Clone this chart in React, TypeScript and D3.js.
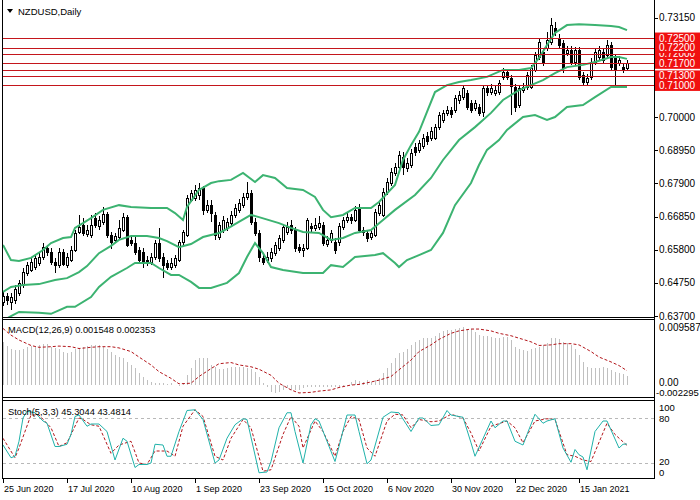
import * as d3 from "d3";

// NZDUSD daily candles, 25 Jun 2020 .. end Jan 2021
const barOpen = [
  0.6414, 0.6433, 0.6414, 0.6421, 0.6443, 0.6468, 0.6506, 0.6516, 0.6525, 0.6538,
  0.6557, 0.6585, 0.6573, 0.6541, 0.6532, 0.6573, 0.6532, 0.6547, 0.6579, 0.6636,
  0.6658, 0.6630, 0.6626, 0.6680, 0.6655, 0.6668, 0.6693, 0.6626, 0.6611, 0.6620,
  0.6642, 0.6683, 0.6611, 0.6601, 0.6579, 0.6573, 0.6547, 0.6541, 0.6557, 0.6601,
  0.6557, 0.6538, 0.6525, 0.6532, 0.6547, 0.6604, 0.6626, 0.6737, 0.6744, 0.6753,
  0.6775, 0.6706, 0.6721, 0.6690, 0.6620, 0.6642, 0.6649, 0.6664, 0.6690, 0.6706,
  0.6721, 0.6747, 0.6759, 0.6668, 0.6633, 0.6554, 0.6547, 0.6554, 0.6569, 0.6585,
  0.6611, 0.6636, 0.6658, 0.6642, 0.6588, 0.6579, 0.6585, 0.6655, 0.6649, 0.6652,
  0.6658, 0.6598, 0.6611, 0.6604, 0.6604, 0.6652, 0.6674, 0.6683, 0.6674, 0.6712,
  0.6642, 0.6633, 0.6620, 0.6626, 0.6696, 0.6690, 0.6763, 0.6791, 0.6823, 0.6842,
  0.6873, 0.6839, 0.6848, 0.6905, 0.6896, 0.6908, 0.6940, 0.6934, 0.6934, 0.6968,
  0.6991, 0.7013, 0.7022, 0.7022, 0.7054, 0.7063, 0.7076, 0.7044, 0.7028, 0.7032,
  0.7016, 0.7092, 0.7079, 0.7076, 0.7079, 0.7127, 0.7142, 0.7123, 0.7095, 0.7038,
  0.7085, 0.7095, 0.7095, 0.7149, 0.7190, 0.7206, 0.7218, 0.7237, 0.7282, 0.7250,
  0.7234, 0.7203, 0.7212, 0.7174, 0.7212, 0.7133, 0.7111, 0.7127, 0.7174, 0.7190,
  0.7206, 0.7196, 0.7228, 0.7187, 0.7171, 0.7158, 0.7155,
];
const barHigh = [
  0.6446, 0.6443, 0.6443, 0.6468, 0.6484, 0.6522, 0.6541, 0.6554, 0.6563, 0.6569,
  0.6601, 0.6595, 0.6585, 0.6554, 0.6585, 0.6582, 0.6569, 0.6592, 0.6642, 0.6690,
  0.6680, 0.6658, 0.6690, 0.6696, 0.6687, 0.6715, 0.6699, 0.6636, 0.6633, 0.6674,
  0.6696, 0.6690, 0.6620, 0.6626, 0.6588, 0.6585, 0.6560, 0.6569, 0.6611, 0.6649,
  0.6569, 0.6547, 0.6554, 0.6563, 0.6611, 0.6642, 0.6753, 0.6769, 0.6785, 0.6791,
  0.6782, 0.6737, 0.6737, 0.6699, 0.6668, 0.6687, 0.6680, 0.6702, 0.6725, 0.6740,
  0.6759, 0.6794, 0.6769, 0.6680, 0.6642, 0.6569, 0.6573, 0.6585, 0.6604, 0.6626,
  0.6661, 0.6668, 0.6674, 0.6652, 0.6598, 0.6598, 0.6680, 0.6664, 0.6680, 0.6687,
  0.6668, 0.6623, 0.6642, 0.6617, 0.6664, 0.6683, 0.6696, 0.6693, 0.6718, 0.6725,
  0.6652, 0.6642, 0.6642, 0.6709, 0.6731, 0.6775, 0.6807, 0.6839, 0.6854, 0.6892,
  0.6889, 0.6870, 0.6899, 0.6918, 0.6927, 0.6946, 0.6953, 0.6968, 0.6978, 0.7016,
  0.7022, 0.7035, 0.7032, 0.7070, 0.7082, 0.7101, 0.7085, 0.7054, 0.7054, 0.7041,
  0.7101, 0.7101, 0.7104, 0.7098, 0.7117, 0.7155, 0.7152, 0.7133, 0.7104, 0.7101,
  0.7108, 0.7142, 0.7165, 0.7206, 0.7250, 0.7218, 0.7269, 0.7313, 0.7301, 0.7263,
  0.7244, 0.7225, 0.7225, 0.7222, 0.7222, 0.7142, 0.7136, 0.7187, 0.7218, 0.7225,
  0.7218, 0.7244, 0.7237, 0.7196, 0.7193, 0.7171, 0.7180,
];
const barLow = [
  0.6402, 0.6405, 0.6389, 0.6408, 0.6433, 0.6459, 0.6497, 0.6509, 0.6516, 0.6528,
  0.6547, 0.6560, 0.6532, 0.6506, 0.6522, 0.6528, 0.6522, 0.6541, 0.6573, 0.6630,
  0.6623, 0.6620, 0.6617, 0.6649, 0.6642, 0.6658, 0.6617, 0.6582, 0.6601, 0.6611,
  0.6636, 0.6588, 0.6592, 0.6563, 0.6535, 0.6522, 0.6528, 0.6532, 0.6547, 0.6541,
  0.6490, 0.6516, 0.6516, 0.6522, 0.6541, 0.6595, 0.6620, 0.6731, 0.6734, 0.6738,
  0.6690, 0.6696, 0.6668, 0.6611, 0.6611, 0.6633, 0.6639, 0.6655, 0.6680, 0.6696,
  0.6712, 0.6737, 0.6658, 0.6623, 0.6541, 0.6532, 0.6538, 0.6541, 0.6560, 0.6576,
  0.6601, 0.6626, 0.6630, 0.6573, 0.6569, 0.6557, 0.6579, 0.6636, 0.6639, 0.6642,
  0.6592, 0.6588, 0.6601, 0.6566, 0.6592, 0.6642, 0.6664, 0.6661, 0.6668, 0.6633,
  0.6623, 0.6604, 0.6611, 0.6620, 0.6687, 0.6683, 0.6753, 0.6782, 0.6813, 0.6832,
  0.6816, 0.6826, 0.6839, 0.6877, 0.6886, 0.6899, 0.6911, 0.6924, 0.6927, 0.6959,
  0.6981, 0.7003, 0.6997, 0.7013, 0.7041, 0.7054, 0.7022, 0.7013, 0.7019, 0.7003,
  0.7000, 0.7066, 0.7070, 0.7066, 0.7070, 0.7117, 0.7117, 0.7006, 0.7016, 0.7028,
  0.7076, 0.7085, 0.7089, 0.7142, 0.7180, 0.7161, 0.7209, 0.7228, 0.7256, 0.7218,
  0.7139, 0.7193, 0.7165, 0.7165, 0.7117, 0.7098, 0.7098, 0.7117, 0.7165, 0.7180,
  0.7171, 0.7187, 0.7149, 0.7101, 0.7161, 0.7139, 0.7146,
];
const barClose = [
  0.6433, 0.6421, 0.6430, 0.6456, 0.6475, 0.6509, 0.6531, 0.6541, 0.6554, 0.6557,
  0.6588, 0.6573, 0.6541, 0.6531, 0.6573, 0.6535, 0.6557, 0.6579, 0.6633, 0.6652,
  0.6633, 0.6642, 0.6658, 0.6658, 0.6674, 0.6693, 0.6626, 0.6604, 0.6623, 0.6649,
  0.6683, 0.6595, 0.6601, 0.6573, 0.6547, 0.6541, 0.6541, 0.6557, 0.6601, 0.6554,
  0.6531, 0.6525, 0.6538, 0.6554, 0.6604, 0.6636, 0.6744, 0.6759, 0.6769, 0.6775,
  0.6706, 0.6721, 0.6696, 0.6626, 0.6658, 0.6674, 0.6668, 0.6690, 0.6712, 0.6728,
  0.6747, 0.6759, 0.6668, 0.6633, 0.6557, 0.6541, 0.6557, 0.6573, 0.6595, 0.6617,
  0.6652, 0.6652, 0.6642, 0.6585, 0.6579, 0.6585, 0.6674, 0.6649, 0.6658, 0.6664,
  0.6601, 0.6611, 0.6633, 0.6579, 0.6655, 0.6674, 0.6683, 0.6674, 0.6706, 0.6642,
  0.6636, 0.6617, 0.6633, 0.6699, 0.6721, 0.6763, 0.6794, 0.6826, 0.6842, 0.6880,
  0.6842, 0.6854, 0.6886, 0.6889, 0.6918, 0.6934, 0.6924, 0.6956, 0.6968, 0.7006,
  0.7013, 0.7022, 0.7010, 0.7060, 0.7070, 0.7092, 0.7032, 0.7022, 0.7044, 0.7013,
  0.7092, 0.7079, 0.7092, 0.7085, 0.7108, 0.7142, 0.7127, 0.7098, 0.7032, 0.7092,
  0.7095, 0.7133, 0.7155, 0.7196, 0.7237, 0.7171, 0.7244, 0.7291, 0.7269, 0.7228,
  0.7155, 0.7212, 0.7174, 0.7212, 0.7127, 0.7111, 0.7123, 0.7174, 0.7206, 0.7212,
  0.7180, 0.7228, 0.7158, 0.7149, 0.7180, 0.7149, 0.7171,
];

// Bollinger bands, [bar index, price]
const bbUpper: [number, number][] = [
  [0, 0.6595], [2, 0.6547], [4, 0.6544], [7, 0.6554], [10, 0.6579], [12, 0.6601], [15, 0.6617],
  [17, 0.6620], [18, 0.6649], [20, 0.6664], [22, 0.6680], [25, 0.6706], [29, 0.6721], [32, 0.6715],
  [37, 0.6712], [41, 0.6712], [43, 0.6696], [45, 0.6674], [46, 0.6715], [49, 0.6769], [52, 0.6791],
  [54, 0.6797], [57, 0.6801], [60, 0.6823], [63, 0.6794], [65, 0.6816], [68, 0.6807], [71, 0.6775],
  [75, 0.6769], [78, 0.6747], [80, 0.6706], [82, 0.6683], [85, 0.6690], [88, 0.6712], [92, 0.6712],
  [94, 0.6731], [98, 0.6785], [100, 0.6864], [102, 0.6911], [104, 0.6953], [106, 0.7016],
  [108, 0.7079], [111, 0.7101], [114, 0.7111], [117, 0.7117], [121, 0.7127], [125, 0.7149],
  [129, 0.7149], [132, 0.7155], [134, 0.7187], [136, 0.7228], [138, 0.7266], [141, 0.7291],
  [144, 0.7294], [148, 0.7291], [152, 0.7288], [154, 0.7285], [156, 0.7275],
];
const bbMiddle: [number, number][] = [
  [0, 0.6446], [2, 0.6462], [5, 0.6468], [9, 0.6471], [13, 0.6484], [16, 0.6490], [19, 0.6509],
  [21, 0.6528], [24, 0.6569], [27, 0.6592], [29, 0.6611], [32, 0.6623], [36, 0.6623], [39, 0.6617],
  [41, 0.6607], [44, 0.6588], [47, 0.6598], [50, 0.6620], [54, 0.6633], [56, 0.6646], [58, 0.6661],
  [62, 0.6690], [64, 0.6683], [69, 0.6664], [72, 0.6649], [75, 0.6636], [79, 0.6633], [82, 0.6611],
  [85, 0.6617], [88, 0.6633], [92, 0.6642], [95, 0.6674], [98, 0.6706], [103, 0.6753],
  [107, 0.6807], [110, 0.6864], [114, 0.6927], [118, 0.6968], [122, 0.7013], [125, 0.7054],
  [129, 0.7085], [132, 0.7101], [135, 0.7117], [138, 0.7139], [141, 0.7158], [145, 0.7165],
  [148, 0.7174], [152, 0.7190], [154, 0.7190], [156, 0.7184],
];
const bbLower: [number, number][] = [
  [0, 0.6355], [2, 0.6370], [4, 0.6383], [9, 0.6380], [12, 0.6377], [16, 0.6399], [18, 0.6399],
  [22, 0.6430], [24, 0.6462], [27, 0.6494], [31, 0.6522], [33, 0.6538], [37, 0.6538], [39, 0.6522],
  [42, 0.6500], [44, 0.6500], [47, 0.6478], [49, 0.6459], [52, 0.6459], [56, 0.6475], [59, 0.6506],
  [61, 0.6557], [63, 0.6601], [65, 0.6569], [67, 0.6525], [70, 0.6516], [75, 0.6506], [80, 0.6506],
  [82, 0.6531], [85, 0.6525], [88, 0.6557], [93, 0.6563], [95, 0.6569], [98, 0.6538], [99, 0.6525],
  [101, 0.6547], [104, 0.6563], [107, 0.6579], [110, 0.6633], [113, 0.6721], [117, 0.6791],
  [119, 0.6848], [121, 0.6896], [124, 0.6927], [126, 0.6959], [130, 0.7000], [133, 0.7006],
  [136, 0.6991], [138, 0.7000], [141, 0.7032], [145, 0.7038], [148, 0.7063], [152, 0.7095],
  [155, 0.7095], [156, 0.7095],
];

// horizontal levels; the 0.71500 label is fully hidden in the reference
const levels = [0.725, 0.722, 0.72, 0.717, 0.715, 0.713, 0.71];
const levelLabels = [0.72, 0.725, 0.722, 0.717, 0.713, 0.71];
const priceTicks = [0.7315, 0.7, 0.6895, 0.679, 0.6685, 0.658, 0.6475, 0.637];

// MACD(12,26,9) main histogram, one per bar
const macdHist = [
  0.0071, 0.00645, 0.0060, 0.00574, 0.00574, 0.0060, 0.00628, 0.00645, 0.00628, 0.00656,
  0.00667, 0.00667, 0.00628, 0.00612, 0.0060, 0.00546, 0.00519, 0.00546, 0.0060, 0.0060,
  0.00628, 0.00645, 0.00656, 0.00656, 0.00656, 0.00628, 0.0060, 0.00536, 0.00492, 0.00464,
  0.00437, 0.00383, 0.00328, 0.00273, 0.00191, 0.00137, 0.00082, 0.00055, 0.00038, 0.00027,
  0.00027, 0.00011, 0.00027, 0.00002, -0.00011, 0.00027, 0.00164, 0.00273, 0.0041, 0.00448,
  0.00448, 0.00437, 0.00328, 0.00301, 0.00262, 0.00262, 0.00273, 0.00301, 0.00301, 0.00301,
  0.00301, 0.00273, 0.00262, 0.00219, 0.00137, 0.00027, -0.00027, -0.00109, -0.00137, -0.00109,
  -0.00082, -0.00055, -0.00082, -0.00082, -0.00082, -0.00055, -0.00027, -0.00027, -0.00027, -0.00027,
  -0.00027, -0.00027, -0.00027, -0.00027, -0.00027, -0.00011, 0.00003,
  0.00055, 0.00082, 0.00066, 0.00055, 0.00082, 0.00055, 0.00082, 0.00109, 0.00191, 0.00273,
  0.00355, 0.00437, 0.00519, 0.00546, 0.0060, 0.00656, 0.0071, 0.00738, 0.00765, 0.00776,
  0.00776, 0.00809, 0.00847, 0.00885, 0.00902, 0.00902, 0.00929, 0.0094, 0.009587, 0.00929,
  0.00929, 0.00874, 0.0082, 0.00809, 0.00809, 0.00792, 0.00776, 0.00776, 0.00787, 0.00787,
  0.00738, 0.00628, 0.0060, 0.00574, 0.00557, 0.0060, 0.00612, 0.00628, 0.00656, 0.00683,
  0.00765, 0.00776, 0.00754, 0.0071, 0.00683, 0.00656, 0.0060, 0.00492, 0.00383, 0.00301,
  0.00284, 0.00284, 0.00284, 0.00301, 0.00273, 0.00246, 0.00219, 0.00191, 0.00175, 0.00155,
];
const macdSignal: [number, number][] = [
  [0, 0.0093], [2, 0.0082], [4, 0.0074], [7, 0.0065], [9, 0.0062], [12, 0.0063], [14, 0.0064],
  [17, 0.0063], [19, 0.0060], [22, 0.0062], [24, 0.0063], [27, 0.0063], [29, 0.0061], [32, 0.0055],
  [34, 0.0046], [37, 0.0033], [39, 0.0022], [42, 0.0011], [44, 0.0002], [47, 0.0003], [49, 0.0014],
  [52, 0.0027], [54, 0.0035], [57, 0.0037], [59, 0.0033], [62, 0.0030], [64, 0.0026], [67, 0.0016],
  [69, 0.0003], [72, -0.0008], [74, -0.0013], [77, -0.0012], [79, -0.0010], [82, -0.0008],
  [84, -0.0004], [87, 0.0000], [89, 0.0001], [92, 0.0005], [94, 0.0008], [97, 0.0014], [99, 0.0025],
  [102, 0.0041], [104, 0.0055], [107, 0.0066], [109, 0.0075], [112, 0.0085], [114, 0.0089],
  [117, 0.0092], [119, 0.0092], [122, 0.0089], [124, 0.0085], [127, 0.0081], [129, 0.0077],
  [132, 0.0071], [134, 0.0065], [137, 0.0066], [139, 0.0068], [142, 0.0068], [144, 0.0066],
  [147, 0.0055], [149, 0.0046], [152, 0.0038], [154, 0.0032], [156, 0.00235],
];

// Stochastic(5,3,3)
const stochMain: [number, number][] = [
  [0, 44], [2, 27], [3, 29], [4, 49], [5, 80], [6, 89], [8, 87], [10, 76], [11, 73], [13, 42],
  [14, 42], [16, 45], [17, 58], [18, 82], [19, 84], [21, 69], [22, 72], [24, 72], [26, 62], [28, 24],
  [30, 53], [31, 49], [33, 14], [34, 18], [36, 18], [37, 20], [38, 45], [40, 44], [41, 29], [42, 29],
  [44, 62], [46, 90], [48, 91], [50, 78], [53, 20], [54, 24], [56, 53], [58, 71], [60, 79], [61, 78],
  [64, 7], [66, 8], [67, 22], [69, 67], [71, 87], [72, 87], [73, 62], [75, 20], [77, 71], [78, 79],
  [79, 76], [83, 22], [84, 42], [86, 84], [88, 84], [89, 62], [91, 19], [92, 24], [95, 81], [97, 88],
  [99, 87], [102, 62], [104, 80], [105, 80], [107, 70], [109, 71], [111, 90], [112, 84], [115, 81],
  [117, 47], [118, 29], [122, 76], [123, 67], [125, 76], [126, 76], [128, 49], [130, 44], [131, 58],
  [133, 85], [135, 73], [136, 76], [138, 79], [140, 40], [142, 21], [143, 38], [144, 31], [145, 28],
  [146, 11], [148, 62], [150, 76], [151, 76], [154, 40], [155, 45], [156, 45.3],
];
const stochSignal: [number, number][] = [
  [0, 53], [3, 27], [4, 40], [7, 84], [9, 84], [12, 67], [14, 42], [16, 47], [19, 80], [20, 78],
  [22, 71], [24, 69], [27, 33], [29, 44], [32, 49], [34, 20], [36, 18], [38, 36], [41, 36], [43, 29],
  [45, 69], [48, 91], [50, 82], [53, 29], [55, 24], [57, 53], [60, 78], [62, 67], [65, 9], [67, 11],
  [70, 58], [72, 82], [74, 69], [75, 40], [78, 76], [80, 62], [83, 29], [85, 62], [87, 82], [89, 78],
  [91, 40], [93, 29], [96, 76], [98, 85], [100, 84], [102, 67], [104, 78], [107, 75], [109, 76],
  [112, 85], [115, 80], [117, 60], [119, 36], [122, 69], [126, 76], [128, 67], [130, 47], [133, 76],
  [136, 79], [138, 78], [141, 31], [143, 29], [145, 24], [147, 22], [151, 73], [153, 58], [156, 43.5],
];
const stochLabels: [number, number][] = [[100, 410.5], [80, 422], [20, 464.5], [0, 476]];

const dateTicks: [number, string][] = [
  [0, "25 Jun 2020"], [16, "17 Jul 2020"], [32, "10 Aug 2020"], [48, "1 Sep 2020"],
  [64, "23 Sep 2020"], [80, "15 Oct 2020"], [96, "6 Nov 2020"], [112, "30 Nov 2020"],
  [128, "22 Dec 2020"], [144, "15 Jan 2021"],
];

const font = "'Liberation Sans', Arial, sans-serif";
const bandColor = "#3cb371";
const sigColor = "#b3161b";

function App() {
  const x = d3.scaleLinear().domain([0, 156]).range([3, 627]);
  const yP = d3.scaleLinear().domain([0.63669, 0.73704]).range([317, 0]);
  const yM = d3.scaleLinear().domain([-0.002295, 0.009587]).range([399, 326.7]);
  const yS = d3.scaleLinear().domain([0, 100]).range([478, 403]);

  const bandLine = d3.line<[number, number]>().x(d => x(d[0])).y(d => yP(d[1]));
  const macdLine = d3.line<[number, number]>().x(d => x(d[0])).y(d => yM(d[1]));
  const stochLine = d3.line<[number, number]>().x(d => x(d[0])).y(d => yS(d[1]));
  const fmt = d3.format(".5f");

  const candles = barOpen.map((o, i) => {
    const c = barClose[i];
    const cx = Math.round(x(i));
    const top = Math.round(yP(Math.max(o, c)));
    const bot = Math.round(yP(Math.min(o, c)));
    const hi = Math.round(yP(barHigh[i]));
    const lo = Math.round(yP(barLow[i]));
    const bull = c >= o;
    return (
      <g key={i}>
        <line x1={cx + 0.5} x2={cx + 0.5} y1={hi} y2={lo} stroke="#000" strokeWidth={1} />
        <rect x={cx - 0.5} y={top + 0.5} width={2} height={Math.max(bot - top, 1)}
          fill={bull ? "#fff" : "#000"} stroke="#000" strokeWidth={1} />
      </g>
    );
  });

  return (
    <svg width={700} height={500} style={{position: "absolute", left: 0, top: 0, background: "#fff"}}
      fontFamily={font}>
      <defs>
        <clipPath id="mainClip"><rect x={3} y={0} width={651} height={317} /></clipPath>
        <clipPath id="macdClip"><rect x={3} y={320} width={651} height={77} /></clipPath>
        <clipPath id="stochClip"><rect x={3} y={401} width={651} height={77} /></clipPath>
      </defs>

      {/* main window */}
      <g clipPath="url(#mainClip)">
        {candles}
        {[bbUpper, bbMiddle, bbLower].map((b, k) => (
          <path key={k} d={bandLine(b) || ""} fill="none" stroke={bandColor} strokeWidth={2} />
        ))}
        {levels.map(p => (
          <line key={p} x1={3} x2={654} y1={Math.round(yP(p)) + 0.5} y2={Math.round(yP(p)) + 0.5}
            stroke="#c4161c" strokeWidth={1} />
        ))}
      </g>
      <path d="M7,9 L13,9 L10,13 Z" fill="#000" />
      <text x={18} y={15} fontSize={9.5} fill="#000">NZDUSD,Daily</text>

      {/* price axis */}
      {priceTicks.map(p => (
        <g key={p}>
          <line x1={654} x2={658} y1={Math.round(yP(p)) + 0.5} y2={Math.round(yP(p)) + 0.5} stroke="#000" />
          <text x={659} y={yP(p) + 3.5} fontSize={10} fill="#000">{fmt(p)}</text>
        </g>
      ))}
      {levelLabels.map(p => (
        <g key={p}>
          <rect x={655} y={yP(p) - 5.5} width={45} height={11} fill="#f01010" />
          <text x={659} y={yP(p) + 3.5} fontSize={10} fill="#fff">{fmt(p)}</text>
        </g>
      ))}

      {/* MACD window */}
      <g clipPath="url(#macdClip)">
        {macdHist.map((v, i) => (
          <line key={i} x1={Math.round(x(i)) + 0.5} x2={Math.round(x(i)) + 0.5}
            y1={Math.round(yM(0))} y2={Math.round(yM(v))} stroke="#c0c0c0" strokeWidth={1} />
        ))}
        <path d={macdLine(macdSignal) || ""} fill="none" stroke={sigColor} strokeWidth={1}
          strokeDasharray="3,2" />
      </g>
      <text x={8} y={333} fontSize={9.3} fill="#000">MACD(12,26,9) 0.001548 0.002353</text>
      <text x={659} y={331} fontSize={10} fill="#000">0.009587</text>
      <text x={659} y={386} fontSize={10} fill="#000">0.00</text>
      <text x={656} y={396} fontSize={9.5} fill="#000">-0.002295</text>

      {/* Stochastic window */}
      <g clipPath="url(#stochClip)">
        {[80, 20].map(v => (
          <line key={v} x1={3} x2={654} y1={Math.round(yS(v)) + 0.5} y2={Math.round(yS(v)) + 0.5}
            stroke="#b8b8b8" strokeDasharray="3,3" />
        ))}
        <path d={stochLine(stochSignal) || ""} fill="none" stroke={sigColor} strokeWidth={1}
          strokeDasharray="3,2" />
        <path d={stochLine(stochMain) || ""} fill="none" stroke="#20b2aa" strokeWidth={1} />
      </g>
      <text x={8} y={415} fontSize={9.3} fill="#000">Stoch(5,3,3) 45.3044 43.4814</text>
      {stochLabels.map(([v, ty]) => (
        <text key={v} x={659} y={ty} fontSize={9.5} fill="#000">{v}</text>
      ))}

      {/* frames */}
      <line x1={2.5} x2={2.5} y1={0} y2={479} stroke="#000" />
      <line x1={654.5} x2={654.5} y1={0} y2={479} stroke="#000" />
      <line x1={2} x2={655} y1={317.5} y2={317.5} stroke="#000" />
      <line x1={2} x2={655} y1={319.5} y2={319.5} stroke="#000" />
      <line x1={2} x2={655} y1={397.5} y2={397.5} stroke="#000" />
      <line x1={2} x2={655} y1={400.5} y2={400.5} stroke="#000" />
      <line x1={2} x2={655} y1={478.5} y2={478.5} stroke="#000" />

      {/* time axis */}
      {dateTicks.map(([i, label]) => (
        <g key={label}>
          <line x1={Math.round(x(i)) + 0.5} x2={Math.round(x(i)) + 0.5} y1={479} y2={483} stroke="#000" />
          <text x={Math.round(x(i)) + 1} y={492} fontSize={9} fill="#000">{label}</text>
        </g>
      ))}
    </svg>
  );
}

export default App;
